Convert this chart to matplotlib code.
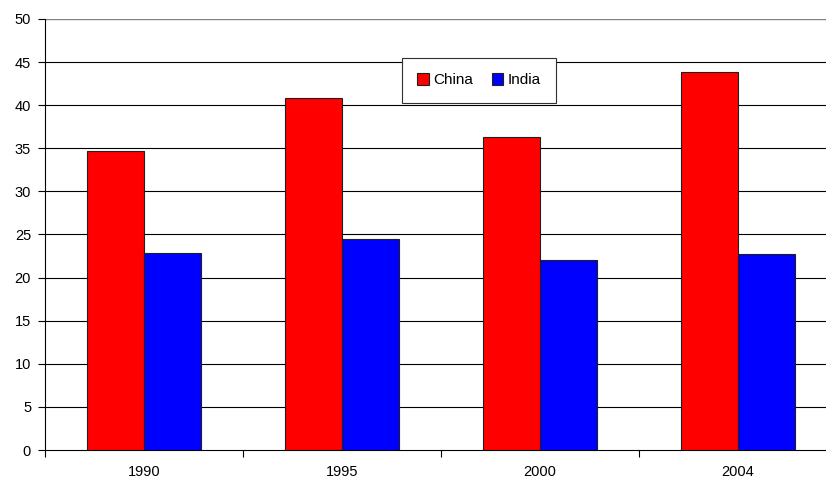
import matplotlib.pyplot as plt
import numpy as np

plt.rcParams["font.family"] = ["Liberation Sans", "DejaVu Sans"]

years = ["1990", "1995", "2000", "2004"]
china = [34.7, 40.8, 36.3, 43.8]
india = [22.9, 24.5, 22.0, 22.7]

W, H = 826, 479
fig = plt.figure(figsize=(W / 100, H / 100), dpi=100)
# plot area runs slightly past the right edge of the image
ax = fig.add_axes([45 / W, (H - 450) / H, (837 - 45) / W, (450 - 19) / H])

x = np.arange(len(years))
bw = 1 / 3.5
ax.bar(x - bw / 2, china, bw, color="#ff0000", edgecolor="#202020", lw=0.8,
       label="China", zorder=3)
ax.bar(x + bw / 2, india, bw, color="#0000ff", edgecolor="#202020", lw=0.8,
       label="India", zorder=3)

ax.set_xlim(-0.5, len(years) - 0.5)
ax.set_ylim(0, 50)
ax.set_yticks(range(0, 51, 5))
for v in range(5, 50, 5):
    ax.axhline(v, color="black", lw=0.8, zorder=1)
ax.axhline(50, color="#808080", lw=1.0, zorder=1)

ax.set_xticks(x)
ax.set_xticklabels(years)
ax.set_xticks(np.arange(len(years) + 1) - 0.5, minor=True)
ax.tick_params(axis="x", which="major", length=0, pad=11, labelsize=10.5)
ax.tick_params(axis="x", which="minor", length=5, width=0.8, direction="out")
ax.tick_params(axis="y", length=5, width=0.8, direction="out", pad=5, labelsize=10.5)

for s in ("top", "right"):
    ax.spines[s].set_visible(False)
ax.spines["left"].set_linewidth(0.8)
ax.spines["bottom"].set_linewidth(0.8)

leg = fig.legend(loc="upper left", bbox_to_anchor=(402 / W, 1 - 58 / H), ncol=2,
                 fancybox=False, edgecolor="#303030", framealpha=1,
                 handlelength=0.75, handleheight=0.75, handletextpad=0.3,
                 columnspacing=1.2, fontsize=11, borderpad=1.0, borderaxespad=0)
leg.get_frame().set_linewidth(0.8)

fig.savefig("out.png", dpi=100, facecolor="white")
